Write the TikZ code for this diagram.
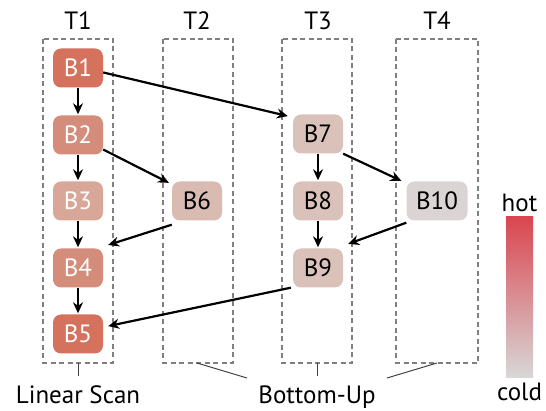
\documentclass[tikz,border=0pt]{standalone}
\usepackage{fontspec}
\setmainfont{PT Sans}
\usetikzlibrary{arrows.meta}
\definecolor{cA}{RGB}{212,114,94}
\definecolor{cB}{RGB}{212,141,123}
\definecolor{cC}{RGB}{217,167,152}
\definecolor{cD}{RGB}{218,187,178}
\definecolor{cE}{RGB}{218,194,187}
\definecolor{cF}{RGB}{218,212,212}
\definecolor{hotc}{RGB}{217,70,80}
\definecolor{coldc}{RGB}{216,216,216}
\definecolor{lanec}{RGB}{128,128,128}
\tikzset{
  blk/.style={rounded corners=8pt, minimum width=50pt, minimum height=39pt, inner sep=0pt, font=\fontsize{25}{30}\selectfont},
  hotblk/.style={blk, fill=#1, text=white},
  coldblk/.style={blk, fill=#1, text=black},
  lane/.style={draw=lanec, dash pattern=on 5pt off 3.5pt, line width=1.2pt},
  lbl/.style={font=\fontsize{25}{30}\selectfont, inner sep=0pt},
  edge/.style={-{Stealth[length=11pt,width=10pt]}, line width=2.2pt, shorten >=1pt},
  tick/.style={line width=1pt, draw=black!75}
}
\begin{document}
\begin{tikzpicture}[x=1pt,y=-1pt]
\useasboundingbox (0,0) rectangle (546,411);
% lanes
\draw[lane] (43,39) rectangle (113,363);
\draw[lane] (163,39) rectangle (233,363);
\draw[lane] (282,39) rectangle (352,363);
\draw[lane] (396,39) rectangle (478,363);
\node[lbl] (t1) at (78,21) {T1};
\node[lbl] (t2) at (197,21) {T2};
\node[lbl] (t3) at (318,21) {T3};
\node[lbl] (t4) at (437,21) {T4};
% blocks
\node[hotblk=cA] (b1) at (78,68) {B1};
\node[hotblk=cB] (b2) at (78,135) {B2};
\node[hotblk=cC] (b3) at (78,201) {B3};
\node[hotblk=cB] (b4) at (78,268) {B4};
\node[hotblk=cA] (b5) at (78,334) {B5};
\node[coldblk=cD] (b6) at (197,201) {B6};
\node[coldblk=cE] (b7) at (318,134) {B7};
\node[coldblk=cE] (b8) at (318,201) {B8};
\node[coldblk=cE] (b9) at (318,268) {B9};
\node[coldblk=cF, minimum width=61pt] (b10) at (437,201) {B10};
% edges
\draw[edge] (b1) -- (b2);
\draw[edge] (b2) -- (b3);
\draw[edge] (b3) -- (b4);
\draw[edge] (b4) -- (b5);
\draw[edge] (b7) -- (b8);
\draw[edge] (b8) -- (b9);
\draw[edge] (b1.-10) -- ([xshift=-4pt,yshift=-2pt]b7.north west);
\draw[edge] (b2.-30) -- ([xshift=-2pt,yshift=-2pt]b6.north west);
\draw[edge] ([yshift=-4pt]b6.south west) -- ([xshift=4pt,yshift=3pt]b4.north east);
\draw[edge] (b7.south east) -- ([xshift=-4pt]b10.north west);
\draw[edge] ([yshift=-2pt]b10.south west) -- ([xshift=4pt,yshift=4pt]b9.north east);
\draw[edge] ([xshift=-2pt]b9.south west) -- ([xshift=4pt]b5.17);
% group labels
\node[lbl, anchor=base] (ls) at (78,403) {Linear Scan};
\node[lbl, anchor=base] (bu) at (317,403) {Bottom-Up};
\coordinate (k1) at (78,363);
\coordinate (k1e) at (78,376);
\coordinate (k2) at (197,363);
\coordinate (k2e) at (247,378);
\coordinate (k3) at (317,363);
\coordinate (k3e) at (317,376);
\coordinate (k4) at (437,363);
\coordinate (k4e) at (387,378);
\draw[tick] (k1) -- (k1e);
\draw[tick] (k2) -- (k2e);
\draw[tick] (k3) -- (k3e);
\draw[tick] (k4) -- (k4e);
% colour bar
\shade[top color=hotc, bottom color=coldc] (506,217) rectangle (533,378);
\node[lbl] (hot) at (519.5,203) {hot};
\node[lbl] (cold) at (519.5,392) {cold};
\end{tikzpicture}
\end{document}
